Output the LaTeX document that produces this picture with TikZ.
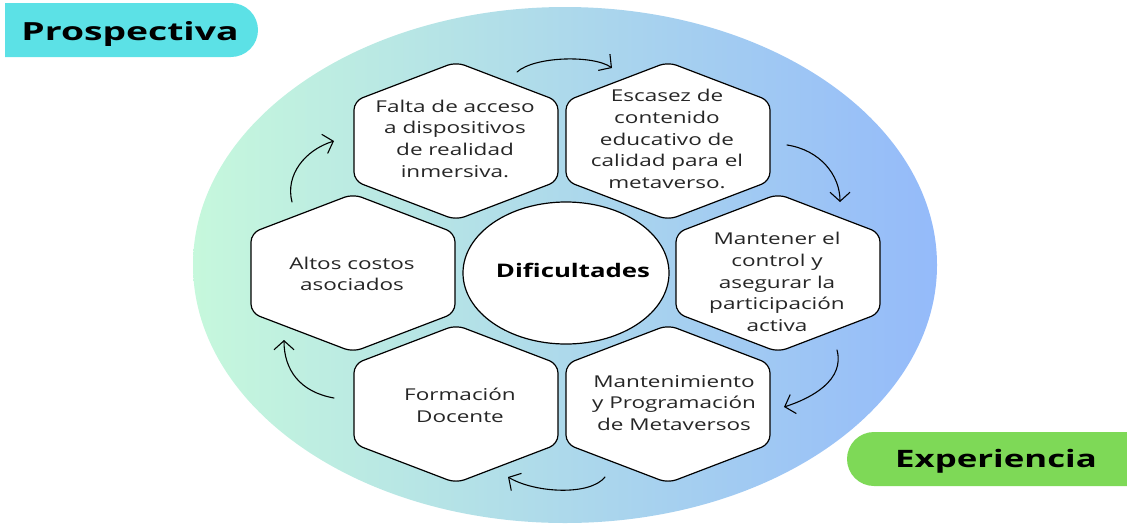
\documentclass[tikz,border=0pt]{standalone}
\usepackage{fontspec}
\newfontfamily\hexfont{Open Sans}[FakeStretch=1.38]
\newfontfamily\profont{Open Sans}[FakeStretch=1.49]
\newfontfamily\expfont{Open Sans}[FakeStretch=1.45]
\usetikzlibrary{arrows.meta}
\definecolor{ellL}{RGB}{198,248,220}
\definecolor{ellM}{RGB}{176,221,232}
\definecolor{ellR}{RGB}{148,186,250}
\definecolor{procol}{HTML}{5CE1E6}
\definecolor{expcol}{HTML}{7ED957}
\tikzset{
  hexbox/.style={draw=black, fill=white, line width=1.2pt, rounded corners=9pt, line join=round},
  hextext/.style={align=center, inner sep=0pt, font=\hexfont\fontsize{16.3}{21.7}\selectfont, text=black!85},
  tagtext/.style={anchor=base, inner sep=0pt},
  cyc/.style={draw=black, line width=1.1pt, line cap=round, -{Straight Barb[length=9pt,width=20pt,line width=1.1pt]}}
}
\newcommand\hexagonat[1]{%
  \draw[hexbox, shift={(#1)}] (0,-79) -- (102,-40) -- (102,40) -- (0,79) -- (-102,40) -- (-102,-40) -- cycle;}
\begin{document}
\begin{tikzpicture}[x=1pt, y=-1pt]
\useasboundingbox (0,0) rectangle (1127,523);
% big gradient ellipse
\shade[left color=ellL, middle color=ellM, right color=ellR] (565,265) ellipse [x radius=372, y radius=258];
% tag boxes
\begin{scope}
\clip (5,0) rectangle (1127,523);
\fill[procol, rounded corners=27pt] (-60,3) rectangle (258,57);
\fill[expcol, rounded corners=27pt] (847,432) rectangle (1170,486);
\end{scope}
\node[tagtext, font=\profont\bfseries\fontsize{25}{28}\selectfont] (pro) at (130,40) {Prospectiva};
\node[tagtext, font=\expfont\bfseries\fontsize{24}{28}\selectfont] (exp) at (996,467) {Experiencia};
% hexagon centres
\coordinate (c1) at (456,141);
\coordinate (c2) at (668,141);
\coordinate (c3) at (778,273);
\coordinate (c4) at (668,404);
\coordinate (c5) at (456,404);
\coordinate (c6) at (353,273);
\foreach \c in {c1,c2,c3,c4,c5,c6} {\hexagonat{\c}}
% centre
\draw[line width=1.2pt, fill=white] (566,273) ellipse [x radius=103, y radius=71];
\node[anchor=base, inner sep=0pt, font=\hexfont\bfseries\fontsize{18.7}{22}\selectfont] (dif) at (573,277) {Dificultades};
% texts
\node[hextext] (t1) at (455,138.5) {Falta de acceso\\a dispositivos\\de realidad\\inmersiva.};
\node[hextext] (t2) at (667,139) {Escasez de\\contenido\\educativo de\\calidad para el\\metaverso.};
\node[hextext] (t3) at (777,282) {Mantener el\\control y\\asegurar la\\participación\\activa};
\node[hextext] (t4) at (674,403) {Mantenimiento\\y Programación\\de Metaversos};
\node[hextext] (t5) at (460,405) {Formación\\Docente};
\node[hextext] (t6) at (352,274) {Altos costos\\asociados};
% cycle arrows
\coordinate (a1s) at (517,72);  \coordinate (a1e) at (612,68);
\coordinate (a2s) at (787,145); \coordinate (a2e) at (840,202);
\coordinate (a3s) at (837,350); \coordinate (a3e) at (784,407);
\coordinate (a4s) at (605,477); \coordinate (a4e) at (508,477);
\coordinate (a5s) at (334,398); \coordinate (a5e) at (284,340);
\coordinate (a6s) at (292,202); \coordinate (a6e) at (334,141);
\draw[cyc] (a1s) .. controls (535,56) and (594,55) .. (a1e);
\draw[cyc] (a2s) .. controls (820,150) and (840,175) .. (a2e);
\draw[cyc] (a3s) .. controls (845,380) and (812,398) .. (a3e);
\draw[cyc] (a4s) .. controls (590,496) and (535,493) .. (a4e);
\draw[cyc] (a5s) .. controls (300,392) and (284,370) .. (a5e);
\draw[cyc] (a6s) .. controls (285,175) and (305,150) .. (a6e);
\end{tikzpicture}
\end{document}
